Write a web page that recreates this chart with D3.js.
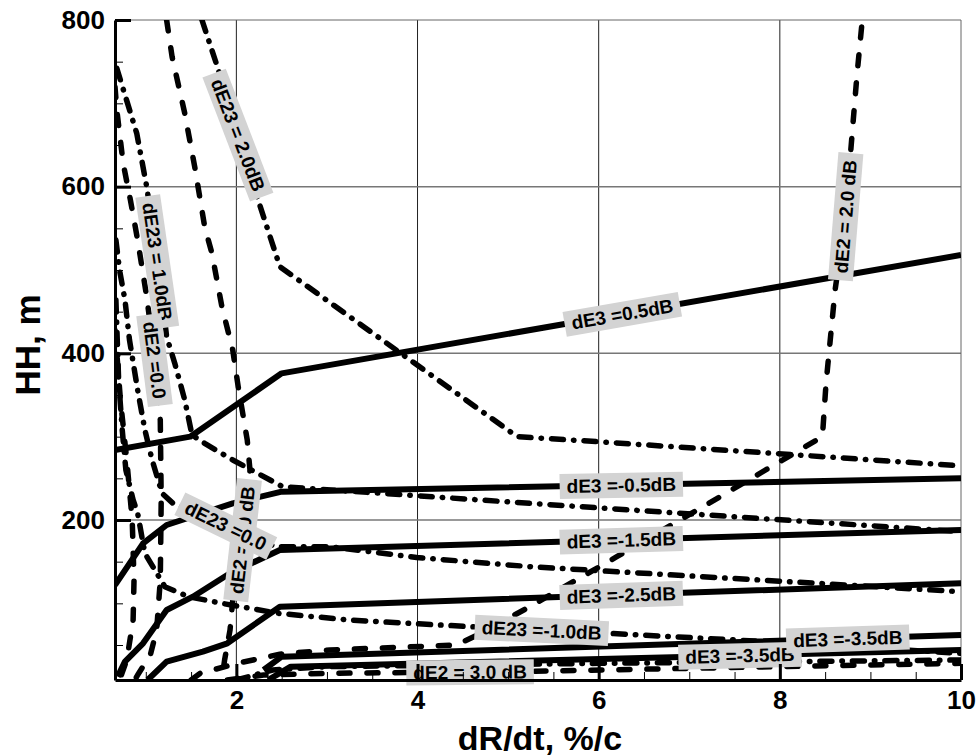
<!DOCTYPE html>
<html>
<head>
<meta charset="utf-8">
<script src="https://cdnjs.cloudflare.com/ajax/libs/d3/7.8.5/d3.min.js"></script>
<style>
  body { margin: 0; background: #fff; }
  text { font-family: "Liberation Sans", Arial, sans-serif; }
</style>
</head>
<body>
<div id="chart"></div>
<script>
// ticks
var xMajor = [2, 4, 6, 8, 10];
var xMinor = [1, 1.5, 2.5, 3, 3.5, 4.5, 5, 5.5, 6.5, 7, 7.5, 8.5, 9, 9.5];
var yMajor = [200, 400, 600, 800];
var yMinor = [50, 100, 150, 250, 300, 350, 450, 500, 550, 650, 700, 750];

// dE3 contours (solid), [dR/dt, HH]
var dE3_p05 = [[0.66, 284], [1.49, 300], [2.5, 376], [10, 518]];
var dE3_m05 = [[0.66, 122], [0.97, 172], [1.23, 194], [1.96, 220], [2.5, 234], [10, 250]];
var dE3_m15 = [[0.69, 12], [0.77, 30], [0.97, 52], [1.23, 92], [1.52, 108], [1.93, 136], [2.48, 164], [10, 188]];
var dE3_m25 = [[1.02, 8], [1.23, 30], [1.63, 42], [1.9, 52], [2.48, 96], [10, 124]];
var dE3_m35a = [[2.3, 20], [2.5, 36], [10, 62]];
var dE3_m35b = [[2.35, 8], [2.6, 24], [10, 44]];

// dE23 contours (dash-dot)
var dE23_p20 = [[1.62, 800], [1.79, 744], [2.24, 584], [2.48, 504], [5.1, 300], [5.98, 294], [10, 265]];
var dE23_p10 = [[0.68, 742], [0.9, 664], [1.01, 600], [1.13, 510], [1.23, 420], [1.32, 388], [1.43, 344],
                [1.51, 302], [1.65, 292], [1.96, 272], [2.51, 240], [5.24, 220], [10, 186]];
var dE23_0 = [[0.67, 536], [0.71, 500], [0.77, 464], [0.82, 416], [0.91, 356], [0.99, 308], [1.07, 272],
              [1.18, 232], [1.3, 220], [2.43, 168], [3.03, 168], [3.99, 155], [5.24, 144], [10, 114]];
var dE23_m10 = [[0.67, 464], [0.7, 368], [0.74, 308], [0.78, 260], [0.86, 224], [0.91, 208], [0.99, 160],
                [1.21, 120], [1.47, 108], [1.84, 100], [2.46, 88], [3.25, 80], [4.58, 72], [6.12, 64],
                [7.86, 54], [10, 40]];
var dE23_m20 = [[2.0, 8], [2.4, 20], [3, 24], [6, 28], [10, 32]];

// dE2 contours (dashed)
var dE2_p20 = [[1.5, 8], [1.6, 16], [2.01, 28], [2.48, 39], [3.03, 44], [4.43, 50], [4.66, 62], [5.24, 96],
               [6.2, 156], [7.34, 228], [8.47, 300], [8.51, 364], [8.61, 476], [8.72, 560], [8.85, 732], [8.91, 800]];
var dE2_p10 = [[1.23, 800], [1.29, 756], [1.43, 688], [1.54, 624], [1.65, 552], [1.73, 520], [1.84, 456],
               [1.96, 404], [2.02, 360], [2.12, 296], [2.15, 260], [2.09, 200], [2.04, 152], [1.96, 104],
               [1.93, 68], [1.87, 32], [1.84, 8]];
var dE2_0 = [[0.66, 720], [0.68, 692], [0.75, 628], [0.83, 584], [0.91, 536], [1.01, 468], [1.1, 392],
             [1.16, 320], [1.17, 224], [1.16, 128], [1.12, 68], [1.05, 38], [0.91, 14], [0.88, 8]];
var dE2_m10 = [[0.66, 428], [0.72, 344], [0.79, 272], [0.85, 200], [0.87, 128], [0.86, 80], [0.79, 32], [0.71, 8]];
var dE2_p30 = [[1.9, 8], [2.3, 14], [3, 16], [5, 18], [7, 22], [10, 28]];

var contours = [
  { pts: dE3_p05, kind: "solid" }, { pts: dE3_m05, kind: "solid" }, { pts: dE3_m15, kind: "solid" },
  { pts: dE3_m25, kind: "solid" }, { pts: dE3_m35a, kind: "solid" }, { pts: dE3_m35b, kind: "solid" },
  { pts: dE23_p20, kind: "dashdot" }, { pts: dE23_p10, kind: "dashdot" }, { pts: dE23_0, kind: "dashdot" },
  { pts: dE23_m10, kind: "dashdot" }, { pts: dE23_m20, kind: "dashdot" },
  { pts: dE2_p20, kind: "dash" }, { pts: dE2_p10, kind: "dash" }, { pts: dE2_0, kind: "dash" },
  { pts: dE2_m10, kind: "dash" }, { pts: dE2_p30, kind: "dash" }
];

// contour labels: where on the line (by x or by HH) they sit
var labels = [
  { text: "dE3 =0.5dB", pts: dE3_p05, by: "x", at: 6.26 },
  { text: "dE3 =-0.5dB", pts: dE3_m05, by: "x", at: 6.25 },
  { text: "dE3 =-1.5dB", pts: dE3_m15, by: "x", at: 6.25 },
  { text: "dE3 =-2.5dB", pts: dE3_m25, by: "x", at: 6.25 },
  { text: "dE23 =-1.0dB", pts: dE23_m10, by: "x", at: 5.37 },
  { text: "dE2 = 3.0 dB", pts: dE2_p30, by: "x", at: 4.58 },
  { text: "dE3 =-3.5dB", pts: dE3_m35b, by: "x", at: 7.56 },
  { text: "dE3 =-3.5dB", pts: dE3_m35a, by: "x", at: 8.75 },
  { text: "dE23 = 2.0dB", pts: dE23_p20, by: "y", at: 662, rot: 69 },
  { text: "dE23 = 1.0dB", pts: dE23_p10, by: "y", at: 510 },
  { text: "dE2 =0.0", pts: dE2_0, by: "y", at: 392 },
  { text: "dE2 =1.0 dB", pts: dE2_p10, by: "y", at: 176, flip: true },
  { text: "dE23 =0.0", pts: dE23_0, by: "x", at: 1.885, rot: 26 },
  { text: "dE2 = 2.0 dB", pts: dE2_p20, by: "y", at: 564 }
];

var margin = { top: 20, right: 19, bottom: 76, left: 115 },
    width = 980 - margin.left - margin.right,
    height = 756 - margin.top - margin.bottom;

var svg = d3.select("#chart").append("svg")
    .attr("width", 980).attr("height", 756)
    .append("g")
    .attr("transform", "translate(" + margin.left + "," + margin.top + ")");

var x = d3.scaleLinear().domain([0.66, 10]).range([0, width]);
var y = d3.scaleLinear().domain([8, 800]).range([height, 0]);

svg.append("clipPath").attr("id", "plot")
    .append("rect").attr("width", width).attr("height", height);

// grid
svg.selectAll(".vgrid").data([2, 4, 6, 8]).enter().append("line")
    .attr("x1", function (d) { return x(d); }).attr("x2", function (d) { return x(d); })
    .attr("y1", 0).attr("y2", height)
    .attr("stroke", "#222").attr("stroke-width", 1);
svg.selectAll(".hgrid").data([200, 400, 600]).enter().append("line")
    .attr("x1", 0).attr("x2", width)
    .attr("y1", function (d) { return y(d); }).attr("y2", function (d) { return y(d); })
    .attr("stroke", "#777").attr("stroke-width", 1.5);
svg.append("line").attr("x1", 0).attr("x2", width).attr("y1", 0).attr("y2", 0)
    .attr("stroke", "#666").attr("stroke-width", 1);
svg.append("line").attr("x1", width).attr("x2", width).attr("y1", 0).attr("y2", height)
    .attr("stroke", "#666").attr("stroke-width", 1);

// contour lines
var line = d3.line().x(function (d) { return x(d[0]); }).y(function (d) { return y(d[1]); });
var styles = {
  solid: { w: 6, dash: null },
  dash: { w: 5.5, dash: "11,17" },
  dashdot: { w: 5.5, dash: "12,10,0.5,10" }
};
svg.append("g").attr("clip-path", "url(#plot)")
    .selectAll("path").data(contours).enter().append("path")
    .attr("d", function (d) { return line(d.pts); })
    .attr("fill", "none")
    .attr("stroke", "#000")
    .attr("stroke-width", function (d) { return styles[d.kind].w; })
    .attr("stroke-dasharray", function (d) { return styles[d.kind].dash; })
    .attr("stroke-linecap", function (d) { return d.kind === "solid" ? "butt" : "round"; })
    .attr("stroke-linejoin", "round");

// find label spot and direction on a contour
function spotOn(pts, by, v) {
  var k = by === "x" ? 0 : 1;
  for (var i = 0; i < pts.length - 1; i++) {
    var a = pts[i], b = pts[i + 1];
    if (a[k] !== b[k] && (v - a[k]) * (v - b[k]) <= 0) {
      var t = (v - a[k]) / (b[k] - a[k]);
      var ax = x(a[0]), ay = y(a[1]), bx = x(b[0]), by2 = y(b[1]);
      return {
        px: ax + t * (bx - ax), py: ay + t * (by2 - ay),
        ang: Math.atan2(by2 - ay, bx - ax) * 180 / Math.PI
      };
    }
  }
  return null;
}

var lab = svg.append("g");
labels.forEach(function (L) {
  var s = spotOn(L.pts, L.by, L.at);
  if (!s) return;
  var ang = L.flip ? s.ang + 180 : s.ang;
  if (ang > 180) ang -= 360;
  if (L.rot !== undefined) ang = L.rot;
  var g = lab.append("g")
      .attr("transform", "translate(" + s.px + "," + s.py + ") rotate(" + ang + ")");
  var r = g.append("rect").attr("fill", "#d3d3d3");
  var t = g.append("text")
      .attr("text-anchor", "middle").attr("dy", "0.36em")
      .style("font-size", "19px").style("font-weight", "bold")
      .text(L.text);
  var bb = t.node().getBBox();
  r.attr("x", bb.x - 7).attr("y", bb.y - 2)
   .attr("width", bb.width + 14).attr("height", bb.height + 4);
});

// axes
var xAxis = svg.append("g").attr("transform", "translate(0," + height + ")")
    .call(d3.axisBottom(x).tickValues(xMajor).tickSize(-16).tickSizeOuter(0).tickPadding(11));
svg.append("g").attr("transform", "translate(0," + height + ")")
    .call(d3.axisBottom(x).tickValues(xMinor).tickSize(-8).tickFormat(""))
    .call(function (g) { g.select(".domain").remove(); });
var yAxis = svg.append("g")
    .call(d3.axisLeft(y).tickValues(yMajor).tickSize(-16).tickSizeOuter(0).tickPadding(10));
svg.append("g")
    .call(d3.axisLeft(y).tickValues(yMinor).tickSize(-8).tickFormat(""))
    .call(function (g) { g.select(".domain").remove(); });

svg.selectAll(".domain").attr("stroke", "#000").attr("stroke-width", 3);
[xAxis, yAxis].forEach(function (a) {
  a.selectAll(".tick line").attr("stroke", "#000").attr("stroke-width", 3);
  a.selectAll(".tick text")
      .style("font-family", "'Liberation Sans', Arial, sans-serif")
      .style("font-size", "26px").style("font-weight", "bold").attr("fill", "#000");
});
svg.selectAll(".tick line").attr("stroke", "#000");

// axis titles
svg.append("text")
    .attr("x", width / 2 + 2).attr("y", height + 70)
    .attr("text-anchor", "middle")
    .style("font-size", "34px").style("font-weight", "bold")
    .text("dR/dt, %/c");
svg.append("text")
    .attr("transform", "rotate(-90)")
    .attr("x", -height / 2 + 5).attr("y", -75)
    .attr("text-anchor", "middle")
    .style("font-size", "35px").style("font-weight", "bold")
    .text("HH, m");
</script>
</body>
</html>
